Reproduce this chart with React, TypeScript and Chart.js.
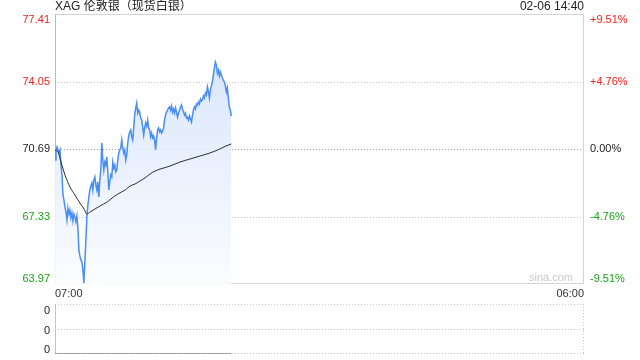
import React, { useEffect, useRef } from "react";
import { Chart, registerables } from "chart.js";

Chart.register(...registerables);

const TITLE = "XAG 伦敦银（现货白银）";
const STAMP = "02-06 14:40";
const WATERMARK = "sina.com";
const PREV_CLOSE = 70.69;
const SESSION_MINUTES = 1380; // 07:00 -> 06:00 next day
const LAST_MINUTE = 460; // 14:40

// one reading roughly every 2.6 minutes from 07:00 to 14:40
const prices = [
  70.14, 70.64, 70.79, 70.64, 70.49, 70.64, 69.89, 69.40, 68.40, 68.15,
  67.80, 67.55, 67.16, 67.75, 67.45, 67.65, 67.26, 67.50, 67.11, 67.45,
  67.31, 67.06, 67.36, 66.76, 65.66, 65.36, 65.17, 65.07, 64.67, 64.02,
  65.07, 66.16, 67.31, 67.90, 68.30, 68.65, 68.85, 69.00, 68.65, 69.15,
  69.30, 68.90, 68.65, 69.05, 68.30, 69.15, 69.64, 70.99, 70.14, 69.64,
  70.04, 69.89, 70.29, 69.55, 68.65, 69.05, 69.40, 69.30, 70.04, 69.74,
  69.89, 69.55, 69.64, 70.14, 70.49, 70.64, 70.74, 71.14, 70.74, 70.49,
  70.64, 70.14, 70.39, 70.99, 71.34, 71.54, 71.64, 71.29, 71.14, 71.74,
  72.38, 72.73, 72.98, 72.48, 72.63, 72.53, 72.23, 72.13, 71.79, 71.39,
  71.74, 71.98, 71.83, 72.13, 71.74, 71.64, 71.29, 71.49, 71.24, 71.34,
  71.14, 70.64, 71.24, 71.64, 71.74, 71.54, 71.64, 71.49, 71.59, 71.74,
  72.13, 72.38, 72.53, 72.63, 72.73, 72.78, 72.63, 72.83, 72.53, 72.68,
  72.48, 72.73, 72.53, 72.28, 72.48, 72.63, 72.78, 72.88, 72.68, 72.53,
  72.38, 72.48, 72.23, 72.28, 72.13, 72.33, 72.18, 72.03, 72.38, 72.63,
  72.78, 72.68, 72.93, 72.88, 73.03, 72.93, 73.18, 73.08, 73.13, 73.33,
  73.23, 73.48, 73.38, 73.78, 73.53, 73.23, 73.63, 73.83, 74.03, 74.37,
  74.72, 75.02, 74.87, 74.47, 74.62, 74.32, 74.52, 74.37, 74.22, 74.12,
  74.03, 73.83, 73.53, 73.73, 73.23, 72.78, 72.63, 72.33,
];

// average price line (minutes after 07:00, price)
const avgMinutes = [
  0, 8, 13, 18, 26, 39, 52, 65, 76, 83, 91, 104, 117, 136, 149, 164, 183,
  196, 209, 222, 235, 248, 261, 274, 300, 326, 352, 378, 404, 430, 446, 460,
];
const avgPrices = [
  70.64, 70.54, 70.24, 69.89, 69.40, 68.80, 68.40, 68.00, 67.70, 67.45, 67.55,
  67.70, 67.85, 68.05, 68.25, 68.45, 68.65, 68.85, 68.95, 69.10, 69.25, 69.45,
  69.59, 69.69, 69.84, 70.04, 70.19, 70.34, 70.49, 70.69, 70.84, 70.94,
];

const priceTicks = [77.41, 74.05, 70.69, 67.33, 63.97];
const pctTicks = ["+9.51%", "+4.76%", "0.00%", "-4.76%", "-9.51%"];
const xTickMinutes = [0, 1380];
const xTickLabels = ["07:00", "06:00"];

const volMinutes = [
  0, 20, 40, 60, 80, 100, 120, 140, 160, 180, 200, 220, 240, 260, 280, 300,
  320, 340, 360, 380, 400, 420, 440, 460,
];
const volumes = [
  0, 0, 0, 0, 0, 0, 0, 0, 0, 0, 0, 0, 0, 0, 0, 0, 0, 0, 0, 0, 0, 0, 0, 0,
];
const volTicks = [2, 1, 0];
const volTickLabels = ["0", "0", "0"];

const RED = "#f0231e";
const GREEN = "#19a319";
const DARK = "#222";
const FONT = "11px Arial, 'Liberation Sans', sans-serif";
const TITLE_FONT = "12px Arial, 'Liberation Sans', 'Noto Sans CJK SC', sans-serif";

function tickColor(v: number) {
  if (v > PREV_CLOSE) return RED;
  if (v < PREV_CLOSE) return GREEN;
  return DARK;
}

function labelY(i: number, n: number, py: number) {
  if (i === 0) return py + 5.5;
  if (i === n - 1) return py - 5.5;
  return py;
}

const mainFrame = {
  id: "mainFrame",
  beforeDatasetsDraw(chart: any) {
    const { ctx, chartArea, scales } = chart;
    const { left, right, top, bottom } = chartArea;
    const y = scales.y;
    ctx.save();
    ctx.lineWidth = 1;
    ctx.setLineDash([1, 2]);
    priceTicks.forEach((v, i) => {
      if (i === 0 || i === priceTicks.length - 1) return;
      const py = Math.round(y.getPixelForValue(v)) + 0.5;
      ctx.strokeStyle = v === PREV_CLOSE ? "#999" : "#c8c8c8";
      ctx.beginPath();
      ctx.moveTo(left, py);
      ctx.lineTo(right, py);
      ctx.stroke();
    });
    ctx.setLineDash([]);
    ctx.strokeStyle = "#d4d4d4";
    ctx.strokeRect(left + 0.5, top + 0.5, right - left - 1, bottom - top - 1);
    ctx.strokeStyle = "#bbb";
    ctx.beginPath();
    ctx.moveTo(left + 0.5, top);
    ctx.lineTo(left + 0.5, bottom);
    ctx.stroke();
    ctx.restore();
  },
  afterDraw(chart: any) {
    const { ctx, chartArea, scales } = chart;
    const { left, right, top, bottom } = chartArea;
    const y = scales.y;
    const x = scales.x;
    ctx.save();
    ctx.font = FONT;
    ctx.textBaseline = "middle";
    priceTicks.forEach((v, i) => {
      const py = labelY(i, priceTicks.length, y.getPixelForValue(v));
      ctx.fillStyle = tickColor(v);
      ctx.textAlign = "right";
      ctx.fillText(v.toFixed(2), left - 5, py);
      ctx.textAlign = "left";
      ctx.fillText(pctTicks[i], right + 6, py);
    });
    ctx.fillStyle = "#333";
    xTickMinutes.forEach((m, i) => {
      const px = x.getPixelForValue(m);
      ctx.textAlign = i === 0 ? "left" : "right";
      ctx.fillText(xTickLabels[i], px, bottom + 10);
    });
    ctx.fillStyle = "#c8c8c8";
    ctx.textAlign = "right";
    ctx.fillText(WATERMARK, right - 11, bottom - 6);
    ctx.font = TITLE_FONT;
    ctx.fillStyle = DARK;
    ctx.textAlign = "left";
    ctx.fillText(TITLE, left, top - 7);
    ctx.textAlign = "right";
    ctx.fillText(STAMP, right, top - 7);
    ctx.restore();
  },
};

const volFrame = {
  id: "volFrame",
  beforeDatasetsDraw(chart: any) {
    const { ctx, chartArea, scales } = chart;
    const { left, right, top, bottom } = chartArea;
    const y = scales.y;
    ctx.save();
    ctx.lineWidth = 1;
    ctx.setLineDash([1, 2]);
    ctx.strokeStyle = "#c8c8c8";
    volTicks.forEach((v) => {
      const py = Math.round(y.getPixelForValue(v)) + (v === 0 ? -0.5 : 0.5);
      ctx.beginPath();
      ctx.moveTo(left, py);
      ctx.lineTo(right, py);
      ctx.stroke();
    });
    ctx.beginPath();
    ctx.moveTo(right - 0.5, top);
    ctx.lineTo(right - 0.5, bottom);
    ctx.stroke();
    ctx.setLineDash([]);
    ctx.strokeStyle = "#c4c4c4";
    ctx.beginPath();
    ctx.moveTo(left + 0.5, top);
    ctx.lineTo(left + 0.5, bottom);
    ctx.stroke();
    ctx.restore();
  },
  afterDraw(chart: any) {
    const { ctx, chartArea, scales } = chart;
    const { left } = chartArea;
    const y = scales.y;
    ctx.save();
    ctx.font = FONT;
    ctx.textBaseline = "middle";
    ctx.textAlign = "right";
    ctx.fillStyle = DARK;
    volTicks.forEach((v, i) => {
      const py = labelY(i, volTicks.length, y.getPixelForValue(v)) + 1.5;
      ctx.fillText(volTickLabels[i], left - 5, py);
    });
    ctx.restore();
  },
};

export default function App() {
  const mainRef = useRef<HTMLCanvasElement | null>(null);
  const volRef = useRef<HTMLCanvasElement | null>(null);

  useEffect(() => {
    const step = LAST_MINUTE / (prices.length - 1);
    const priceData = prices.map((p, i) => ({ x: i * step, y: p }));
    const avgData = avgMinutes.map((m, i) => ({ x: m, y: avgPrices[i] }));
    const volData = volMinutes.map((m, i) => ({ x: m, y: volumes[i] }));

    const main = new Chart(mainRef.current as HTMLCanvasElement, {
      type: "line",
      data: {
        datasets: [
          {
            data: avgData,
            borderColor: "#2b2b2b",
            borderWidth: 1,
            pointRadius: 0,
            fill: false,
            tension: 0.4,
            cubicInterpolationMode: "monotone",
            order: 0,
          },
          {
            data: priceData,
            borderColor: "#4a8ef0",
            borderWidth: 1.5,
            pointRadius: 0,
            tension: 0,
            fill: "start",
            order: 1,
            backgroundColor: (context: any) => {
              const { chart } = context;
              const area = chart.chartArea;
              if (!area) return "rgba(220,232,250,0.8)";
              const g = chart.ctx.createLinearGradient(0, area.top, 0, area.bottom);
              g.addColorStop(0, "rgba(208,224,250,0.95)");
              g.addColorStop(1, "rgba(250,252,255,0.9)");
              return g;
            },
          },
        ],
      },
      options: {
        responsive: false,
        animation: false,
        layout: { padding: { left: 55, right: 56, top: 14, bottom: 16 } },
        plugins: { legend: { display: false }, tooltip: { enabled: false } },
        scales: {
          x: { type: "linear", display: false, min: 0, max: SESSION_MINUTES },
          y: {
            type: "linear",
            display: false,
            min: priceTicks[priceTicks.length - 1],
            max: priceTicks[0],
          },
        },
      },
      plugins: [mainFrame],
    } as any);

    const vol = new Chart(volRef.current as HTMLCanvasElement, {
      type: "line",
      data: {
        datasets: [
          {
            data: volData,
            borderColor: "#555",
            borderWidth: 1.2,
            pointRadius: 0,
            fill: false,
          },
        ],
      },
      options: {
        responsive: false,
        animation: false,
        layout: { padding: { left: 55, right: 56, top: 4, bottom: 6 } },
        plugins: { legend: { display: false }, tooltip: { enabled: false } },
        scales: {
          x: { type: "linear", display: false, min: 0, max: SESSION_MINUTES },
          y: { type: "linear", display: false, min: 0, max: 2 },
        },
      },
      plugins: [volFrame],
    } as any);

    return () => {
      main.destroy();
      vol.destroy();
    };
  }, []);

  return (
    <div style={{ position: "absolute", left: 0, top: 0, width: 640, height: 360, background: "#fff" }}>
      <canvas ref={mainRef} width={640} height={300} style={{ position: "absolute", left: 0, top: 0, display: "block" }} />
      <canvas ref={volRef} width={640} height={60} style={{ position: "absolute", left: 0, top: 300, display: "block" }} />
    </div>
  );
}
